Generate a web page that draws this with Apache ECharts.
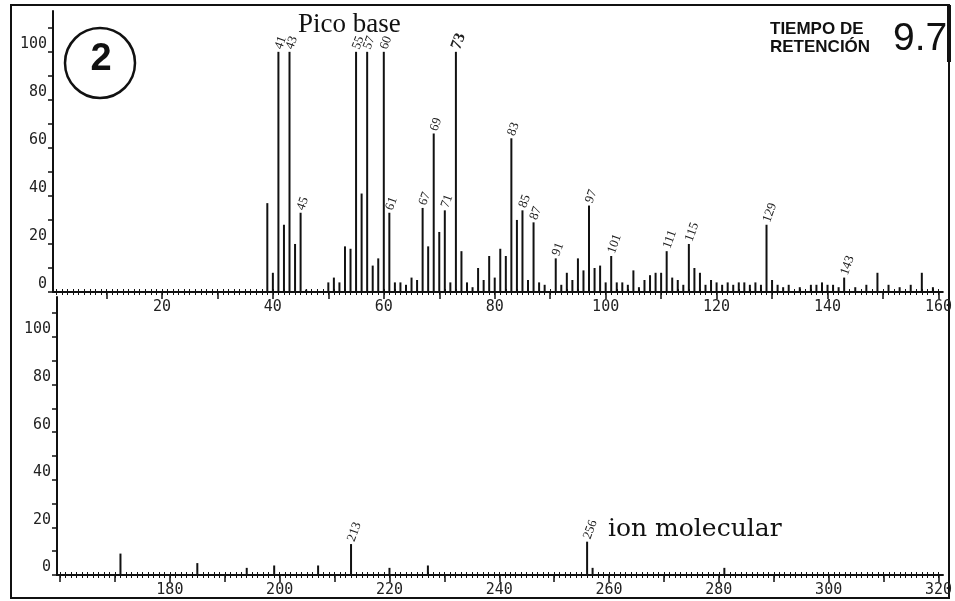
<!DOCTYPE html>
<html>
<head>
<meta charset="utf-8">
<script src="https://cdn.jsdelivr.net/npm/echarts@6/dist/echarts.min.js"></script>
<style>
html, body { margin: 0; padding: 0; background: #fff; }
#main { width: 955px; height: 601px; }
</style>
</head>
<body>
<div id="main"></div>
<script>
// espectro de masas - parte alta (m/z 0 a 160)
var topMz  = [39, 40, 41, 42, 43, 44, 45, 46, 50, 51, 52, 53, 54, 55, 56, 57, 58, 59, 60, 61,
              62, 63, 64, 65, 66, 67, 68, 69, 70, 71, 72, 73, 74, 75, 76, 77, 78, 79, 80, 81,
              82, 83, 84, 85, 86, 87, 88, 89, 91, 92, 93, 94, 95, 96, 97, 98, 99, 100, 101, 102,
              103, 104, 105, 106, 107, 108, 109, 110, 111, 112, 113, 114, 115, 116, 117, 118, 119, 120, 121, 122,
              123, 124, 125, 126, 127, 128, 129, 130, 131, 132, 133, 135, 137, 138, 139, 140, 141, 142, 143, 145,
              147, 149, 151, 153, 155, 157, 159];
var topInt = [37, 8, 100, 28, 100, 20, 33, 1, 4, 6, 4, 19, 18, 100, 41, 100, 11, 14, 100, 33,
              4, 4, 3, 6, 5, 35, 19, 66, 25, 34, 4, 100, 17, 4, 2, 10, 5, 15, 6, 18,
              15, 64, 30, 34, 5, 29, 4, 3, 14, 3, 8, 5, 14, 9, 36, 10, 11, 4, 15, 4,
              4, 3, 9, 2, 5, 7, 8, 8, 17, 6, 5, 3, 20, 10, 8, 3, 5, 4, 3, 4,
              3, 4, 4, 3, 4, 3, 28, 5, 3, 2, 3, 2, 3, 3, 4, 3, 3, 2, 6, 2,
              3, 8, 3, 2, 3, 8, 2];
var topLabels = [41, 43, 45, 55, 57, 60, 61, 67, 69, 71, 73, 83, 85, 87, 91, 97, 101, 111, 115, 129, 143];

// parte baja (m/z 160 a 320)
var lowMz  = [171, 185, 194, 199, 207, 213, 220, 227, 256, 257, 281];
var lowInt = [9, 5, 3, 4, 4, 13, 3, 4, 14, 3, 3];
var lowLabels = [213, 256];

var topXLabels = [20, 40, 60, 80, 100, 120, 140, 160];
var lowXLabels = [180, 200, 220, 240, 260, 280, 300, 320];
var yLabels = [0, 20, 40, 60, 80, 100];

function range(a, b, step)
{
	var r = [];
	for (var v = a; v <= b; v += step) r.push(v);
	return r;
}

function buildData(mz, ints, labeled)
{
	var out = [];
	for (var i = 0; i < mz.length; i++) {
		var item = { value: [mz[i], ints[i]] };
		if (labeled.indexOf(mz[i]) >= 0) {
			item.label = {
				show: true,
				formatter: String(mz[i]),
				fontWeight: mz[i] == 73 ? 'bold' : 'normal',
				fontSize: mz[i] == 73 ? 16 : 13
			};
		}
		out.push(item);
	}
	return out;
}

var tickFont = { fontFamily: 'DejaVu Sans Mono', fontSize: 15, color: '#222' };
var axisLineStyle = { color: '#111', width: 2 };

// eje con rayitas cortas, eje con rayitas largas cada 10 y rayitas hacia dentro
function xAxes(grid, min, max, labels, minor, major)
{
	return [{
		gridIndex: grid, type: 'value', position: 'bottom', min: min, max: max,
		axisLine: { lineStyle: axisLineStyle },
		axisTick: { customValues: minor, length: 3, lineStyle: { color: '#111', width: 1 } },
		axisLabel: Object.assign({ customValues: labels, margin: 8 }, tickFont),
		splitLine: { show: false }
	}, {
		gridIndex: grid, type: 'value', position: 'bottom', min: min, max: max,
		axisLine: { show: false },
		axisTick: { customValues: major, length: 7, lineStyle: { color: '#111', width: 1.5 } },
		axisLabel: { show: false },
		splitLine: { show: false }
	}, {
		gridIndex: grid, type: 'value', position: 'bottom', min: min, max: max,
		axisLine: { show: false },
		axisTick: { customValues: minor, inside: true, length: 3, lineStyle: { color: '#111', width: 1 } },
		axisLabel: { show: false },
		splitLine: { show: false }
	}];
}

function yAxis(grid, max)
{
	return {
		gridIndex: grid, type: 'value', min: 0, max: max,
		axisLine: { show: true, lineStyle: axisLineStyle },
		axisTick: { show: true, customValues: range(0, 110, 10), length: 5, lineStyle: { color: '#111', width: 1.5 } },
		axisLabel: Object.assign({ customValues: yLabels, margin: 6, verticalAlign: 'bottom' }, tickFont),
		splitLine: { show: false }
	};
}

var barLabel = {
	position: 'top', rotate: 70, align: 'left', verticalAlign: 'middle', distance: 3,
	fontFamily: 'Liberation Serif', color: '#222'
};

var chart = echarts.init(document.getElementById('main'));
var option = {
	animation: false,
	backgroundColor: '#fff',
	grid: [
		{ left: 53, top: 11, width: 892, height: 281 },
		{ left: 57, top: 297, width: 888, height: 278 }
	],
	xAxis: xAxes(0, 0.36, 160.79, topXLabels, range(1, 160, 1), range(10, 160, 10))
		.concat(xAxes(1, 159.44, 320.83, lowXLabels, range(160, 320, 1), range(160, 320, 10))),
	yAxis: [yAxis(0, 117), yAxis(1, 116.8)],
	series: [{
		type: 'bar', xAxisIndex: 0, yAxisIndex: 0, barWidth: 2,
		itemStyle: { color: '#111' }, label: barLabel,
		data: buildData(topMz, topInt, topLabels)
	}, {
		type: 'bar', xAxisIndex: 3, yAxisIndex: 1, barWidth: 2,
		itemStyle: { color: '#111' }, label: barLabel,
		data: buildData(lowMz, lowInt, lowLabels)
	}],
	graphic: [
		{ type: 'rect', shape: { x: 11, y: 5, width: 938, height: 593 }, style: { fill: 'none', stroke: '#111', lineWidth: 2 } },
		{ type: 'line', shape: { x1: 949, y1: 5, x2: 949, y2: 62 }, style: { stroke: '#111', lineWidth: 4 } },
		{ type: 'circle', shape: { cx: 100, cy: 63, r: 35 }, style: { fill: 'none', stroke: '#111', lineWidth: 2.5 } },
		{ type: 'text', x: 101, y: 60, style: { text: '2', font: 'bold 38px "Liberation Sans"', fill: '#111', align: 'center', verticalAlign: 'middle' } },
		{ type: 'text', x: 298, y: 25, style: { text: 'Pico base', font: '27px "Liberation Serif"', fill: '#111', align: 'left', verticalAlign: 'middle' } },
		{ type: 'text', x: 770, y: 29, style: { text: 'TIEMPO DE', font: 'bold 17px "Liberation Sans Narrow", "Liberation Sans"', fill: '#111', align: 'left', verticalAlign: 'middle' } },
		{ type: 'text', x: 770, y: 47, style: { text: 'RETENCIÓN', font: 'bold 17px "Liberation Sans Narrow", "Liberation Sans"', fill: '#111', align: 'left', verticalAlign: 'middle' } },
		{ type: 'text', x: 893, y: 39, style: { text: '9.7', font: '39px "Liberation Sans"', fill: '#111', align: 'left', verticalAlign: 'middle' } },
		{ type: 'text', x: 608, y: 529, style: { text: 'ion molecular', font: '25px "DejaVu Serif"', fill: '#111', align: 'left', verticalAlign: 'middle' } }
	]
};
chart.setOption(option);
</script>
</body>
</html>
